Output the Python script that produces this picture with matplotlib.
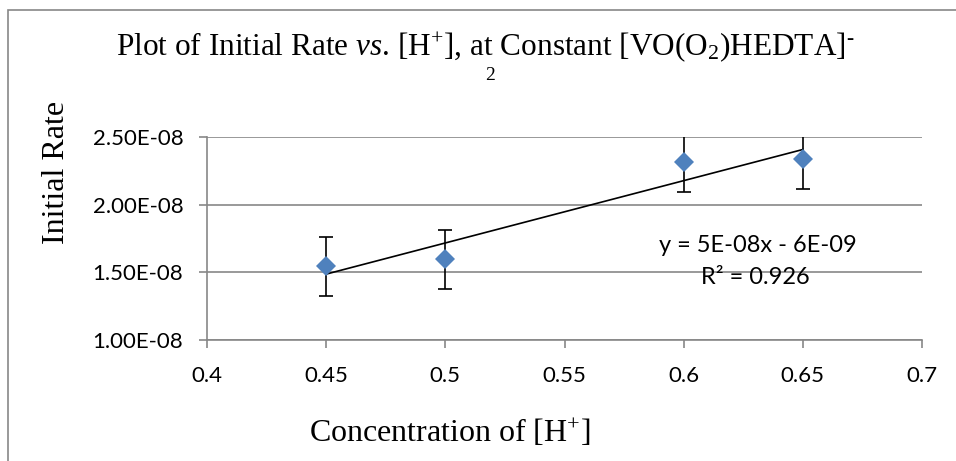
import numpy as np
import matplotlib.pyplot as plt
from matplotlib.patches import Rectangle

# [H+] concentrations and measured initial rates
conc_h = [0.45, 0.50, 0.60, 0.65]
initial_rate = [1.544e-8, 1.595e-8, 2.315e-8, 2.335e-8]
rate_err = [0.22e-8, 0.22e-8, 0.22e-8, 0.22e-8]

x_ticks = [0.4, 0.45, 0.5, 0.55, 0.6, 0.65, 0.7]
x_tick_labels = ['0.4', '0.45', '0.5', '0.55', '0.6', '0.65', '0.7']
y_ticks = [1.0e-8, 1.5e-8, 2.0e-8, 2.5e-8]
y_tick_labels = ['1.00E-08', '1.50E-08', '2.00E-08', '2.50E-08']

plt.rcParams['mathtext.fontset'] = 'custom'
plt.rcParams['mathtext.rm'] = 'Liberation Serif'
plt.rcParams['mathtext.it'] = 'Liberation Serif:italic'

serif = 'Liberation Serif'
sans = 'Lato'
grey = '#878787'

fig = plt.figure(figsize=(9.56, 4.61), dpi=100)
fig.patches.append(Rectangle((8 / 956, -0.1), 1.2, 1 - 10 / 461 + 0.1,
                             transform=fig.transFigure, fill=False,
                             edgecolor=grey, linewidth=1.2))

ax = fig.add_axes([207 / 956, 1 - 340 / 461, 715 / 956, 203 / 461])

ax.errorbar(conc_h, initial_rate, yerr=rate_err, fmt='none', ecolor='black',
            elinewidth=1.2, capsize=5, capthick=1.2, zorder=3)
ax.plot(conc_h, initial_rate, linestyle='none', marker='D', markersize=10,
        color='#4F81BD', markeredgewidth=0, zorder=4)

# linear trendline through the points
slope, intercept = np.polyfit(conc_h, initial_rate, 1)
fit_x = np.array([min(conc_h), max(conc_h)])
ax.plot(fit_x, slope * fit_x + intercept, color='black', linewidth=1.2, zorder=3)
pred = slope * np.array(conc_h) + intercept
ss_res = np.sum((np.array(initial_rate) - pred) ** 2)
ss_tot = np.sum((np.array(initial_rate) - np.mean(initial_rate)) ** 2)
r2 = 1 - ss_res / ss_tot

ax.text(0.631, 1.70e-8, 'y = %.0Ex - %.0E' % (slope, -intercept),
        ha='center', va='center', fontsize=17, family=sans)
ax.text(0.630, 1.465e-8, 'R² = %.3f' % r2,
        ha='center', va='center', fontsize=17, family=sans)

ax.set_xlim(0.4, 0.7)
ax.set_ylim(1.0e-8, 2.5e-8)
ax.set_xticks(x_ticks)
ax.set_xticklabels(x_tick_labels, family=sans, fontsize=16)
ax.set_yticks(y_ticks)
ax.set_yticklabels(y_tick_labels, family=sans, fontsize=16)
ax.tick_params(axis='both', direction='out', length=6, width=1.2, color=grey)
ax.tick_params(axis='x', pad=13)
ax.tick_params(axis='y', pad=11)

ax.grid(axis='y', color=grey, linewidth=1.2)
ax.set_axisbelow(True)
for side in ['top', 'right']:
    ax.spines[side].set_visible(False)
for side in ['left', 'bottom']:
    ax.spines[side].set_color(grey)
    ax.spines[side].set_linewidth(1.2)

fig.text(485 / 956, 1 - 55 / 461,
         r'Plot of Initial Rate $\mathit{vs}$. [H$^{+}$], at Constant [VO(O$_{2}$)HEDTA]$^{\text{-}}$',
         ha='center', va='baseline', fontsize=22.5, family=serif)
fig.text(490 / 956, 1 - 76 / 461, '2', ha='center', va='center',
         fontsize=14, family=serif)
fig.text(57 / 956, 1 - 172 / 461, 'Initial Rate', rotation=90,
         ha='center', va='center', fontsize=23, family=serif)
fig.text(450 / 956, 1 - 433 / 461, r'Concentration of [H$^{+}$]',
         ha='center', va='center', fontsize=23, family=serif)

fig.savefig('out.png', dpi=100)
